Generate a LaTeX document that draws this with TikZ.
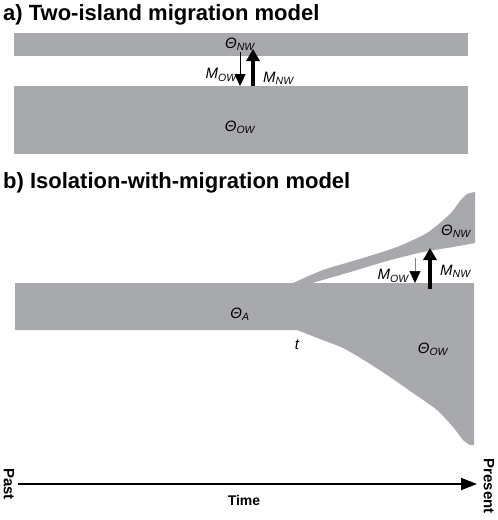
\documentclass[tikz,border=0pt]{standalone}
\usepackage{fontspec}
\setmainfont{Liberation Sans}
\usetikzlibrary{arrows.meta}
\definecolor{popgray}{RGB}{168,169,173}
\newcommand\poplab[2]{\itshape #1\textsubscript{#2}}

\begin{document}
\begin{tikzpicture}[x=1pt,y=-1pt]
    \tikzstyle{every node}=[font=\fontsize{15}{17}\selectfont\itshape, inner sep=0pt]
    \tikzstyle{title}=[font=\fontsize{22}{24}\selectfont\bfseries, anchor=base west]
    \tikzstyle{axislab}=[font=\fontsize{15}{17}\selectfont\bfseries]
    \tikzstyle{thin mig}=[line width=1pt, -{Triangle[width=11pt,length=12pt]}]
    \tikzstyle{thick mig}=[line width=3.5pt, -{Triangle[width=13pt,length=12pt]}]
    \useasboundingbox (0,0) rectangle (498,520);

    % a) two islands
    \node[title] (ta) at (3,20.5) {a) Two-island migration model};
    \fill[popgray] (14,33) rectangle (468,56);
    \fill[popgray] (14,86) rectangle (468,154);
    \node (nwa) at (240,44) {\poplab{Θ}{NW}};
    \node (owa) at (240,127) {\poplab{Θ}{OW}};
    \coordinate (a1) at (240,52);
    \coordinate (a2) at (240,86);
    \coordinate (a3) at (253,86);
    \coordinate (a4) at (253,49);
    \draw[thin mig] (a1) -- (a2);
    \draw[thick mig] (a3) -- (a4);
    \node[anchor=east] (mowa) at (237,75) {\poplab{M}{OW}};
    \node[anchor=west] (mnwa) at (263,78) {\poplab{M}{NW}};

    % b) isolation with migration
    \node[title] (tb) at (3,188) {b) Isolation-with-migration model};
    \fill[popgray] (15,283) -- (474,283) -- (474,445)
        -- plot[smooth, tension=0.4] coordinates {(470,445) (463,440) (453,427) (437,410)
           (413,393) (390,377) (367,362) (343,348) (320,339) (297,330)}
        -- (15,330) -- cycle;
    \fill[popgray] (293,283)
        -- plot[smooth, tension=0.4] coordinates {(293,283) (323,270) (363,258) (397,247)
           (427,233) (450,214) (460,201) (467,194) (475,192)}
        -- (475,243)
        -- plot[smooth, tension=0.4] coordinates {(475,243) (453,247) (423,252) (387,261)
           (347,273) (312,283)}
        -- cycle;
    \node (anc) at (240,314) {\poplab{Θ}{A}};
    \node (tsplit) at (297,345) {t};
    \node (owb) at (433,349) {\poplab{Θ}{OW}};
    \node (nwb) at (456,231) {\poplab{Θ}{NW}};
    \coordinate (b1) at (415,258);
    \coordinate (b2) at (415,283);
    \coordinate (b3) at (430,289);
    \coordinate (b4) at (430,248);
    \draw[line width=0.5pt, gray, -{Triangle[width=11pt,length=12pt,black]}] (b1) -- (b2);
    \draw[thick mig] (b3) -- (b4);
    \node[anchor=east] (mowb) at (409,276) {\poplab{M}{OW}};
    \node[anchor=west] (mnwb) at (440,271) {\poplab{M}{NW}};

    % time axis
    \coordinate (past) at (18,484);
    \coordinate (present) at (477,484);
    \draw[line width=1.6pt, -{Triangle[width=12pt,length=16pt]}] (past) -- (present);
    \node[axislab, rotate=-90] (pastlab) at (9,484) {Past};
    \node[axislab, rotate=-90] (preslab) at (489,486) {Present};
    \node[axislab, font=\fontsize{14}{16}\selectfont\bfseries] (timelab) at (244,500) {Time};
\end{tikzpicture}
\end{document}
